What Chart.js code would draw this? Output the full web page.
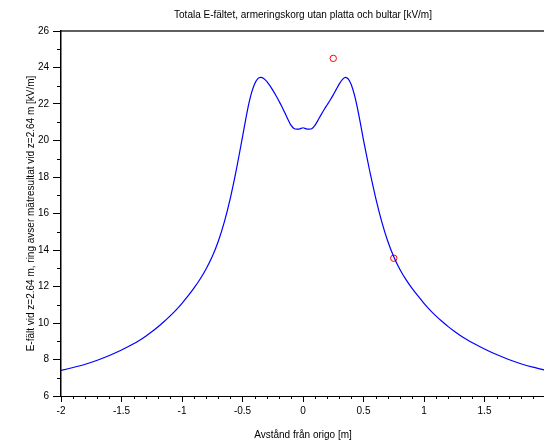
<!DOCTYPE html>
<html>
<head>
<meta charset="utf-8">
<script src="https://cdn.jsdelivr.net/npm/chart.js@4/dist/chart.umd.min.js"></script>
<style>
html, body { margin: 0; padding: 0; overflow: hidden; background: #fff; width: 544px; height: 443px; }
canvas { display: block; }
</style>
</head>
<body>
<canvas id="c" width="550" height="443"></canvas>
<script>
// Simulated field along the axis (kV/m)
const xValues = [-2.0, -1.9, -1.8, -1.7, -1.6, -1.5, -1.4, -1.35, -1.3, -1.25, -1.2, -1.15, -1.1, -1.05, -1.0, -0.95, -0.9, -0.85, -0.8, -0.75, -0.7, -0.65, -0.6, -0.55, -0.5,
                 -0.475, -0.45, -0.425, -0.4, -0.375, -0.35, -0.325, -0.3, -0.275, -0.25, -0.225, -0.2, -0.175, -0.15, -0.125, -0.1, -0.075, -0.05, -0.025, 0,
                 0.025, 0.05, 0.075, 0.1, 0.125, 0.15, 0.175, 0.2, 0.225, 0.25, 0.275, 0.3, 0.325, 0.35, 0.375, 0.4, 0.425, 0.45, 0.475, 0.5,
                 0.55, 0.6, 0.65, 0.7, 0.75, 0.8, 0.85, 0.9, 0.95, 1.0, 1.05, 1.1, 1.15, 1.2, 1.25, 1.3, 1.35, 1.4, 1.5, 1.6, 1.7, 1.8, 1.9, 2.0];
const yValues = [7.40, 7.56, 7.74, 7.96, 8.22, 8.52, 8.86, 9.06, 9.28, 9.52, 9.78, 10.07, 10.38, 10.71, 11.08, 11.48, 11.92, 12.41, 12.97, 13.64, 14.48, 15.54, 16.86, 18.43, 20.20,
                 21.10, 21.95, 22.62, 23.10, 23.38, 23.46, 23.40, 23.24, 23.02, 22.76, 22.48, 22.18, 21.86, 21.52, 21.16, 20.84, 20.66, 20.62, 20.64, 20.70,
                 20.64, 20.62, 20.66, 20.84, 21.12, 21.42, 21.70, 21.96, 22.22, 22.50, 22.80, 23.10, 23.34, 23.46, 23.36, 23.04, 22.50, 21.78, 20.92, 20.02,
                 18.37, 16.87, 15.57, 14.49, 13.63, 12.95, 12.39, 11.91, 11.48, 11.08, 10.71, 10.38, 10.08, 9.80, 9.55, 9.32, 9.11, 8.92, 8.58, 8.27, 8.00, 7.77, 7.58, 7.42];
// Measured values
const measX = [0.25, 0.75];
const measY = [24.5, 13.55];
// Axis ticks
const xMajorTicks = [-2, -1.5, -1, -0.5, 0, 0.5, 1, 1.5];
const xMinorTicks = [-1.9,-1.8,-1.7,-1.6,-1.4,-1.3,-1.2,-1.1,-0.9,-0.8,-0.7,-0.6,-0.4,-0.3,-0.2,-0.1,0.1,0.2,0.3,0.4,0.6,0.7,0.8,0.9,1.1,1.2,1.3,1.4,1.6,1.7,1.8,1.9];
const yMinorTicks = [7, 9, 11, 13, 15, 17, 19, 21, 23, 25];

const titleText = 'Totala E-fältet, armeringskorg utan platta och bultar [kV/m]';
const xTitle = 'Avstånd från origo [m]';
const yTitle = 'E-fält vid z=2.64 m, ring avser mätresultat vid z=2.64 m [kV/m]';

const FONT = { family: '"Liberation Sans", Arial, sans-serif', size: 10 };

const minorTicks = {
  id: 'minorTicks',
  afterDraw(chart) {
    const ctx = chart.ctx;
    const xs = chart.scales.x, ys = chart.scales.y;
    const area = chart.chartArea;
    ctx.save();
    ctx.strokeStyle = '#000';
    ctx.lineWidth = 1;
    ctx.beginPath();
    xMinorTicks.forEach(v => {
      const px = Math.round(xs.getPixelForValue(v)) + 0.5;
      ctx.moveTo(px, area.bottom);
      ctx.lineTo(px, area.bottom + 3);
    });
    yMinorTicks.forEach(v => {
      const py = Math.round(ys.getPixelForValue(v)) + 0.5;
      ctx.moveTo(area.left - 4, py);
      ctx.lineTo(area.left, py);
    });
    ctx.stroke();
    ctx.restore();
  }
};

new Chart(document.getElementById('c'), {
  type: 'scatter',
  data: {
    datasets: [
      {
        type: 'line',
        data: xValues.map((x, i) => ({ x: x, y: yValues[i] })),
        borderColor: '#0000ff',
        borderWidth: 1.2,
        pointRadius: 0,
        tension: 0.2,
        fill: false
      },
      {
        data: measX.map((x, i) => ({ x: x, y: measY[i] })),
        pointStyle: 'circle',
        pointRadius: 3.2,
        borderColor: '#ff0000',
        backgroundColor: 'rgba(0,0,0,0)',
        borderWidth: 1
      }
    ]
  },
  options: {
    responsive: false,
    devicePixelRatio: 1,
    animation: false,
    layout: { padding: 0 },
    plugins: { legend: { display: false }, tooltip: { enabled: false }, title: { display: false } },
    scales: {
      x: {
        type: 'linear',
        position: 'bottom',
        min: -2, max: 2,
        afterFit: s => { s.height = 47; },
        afterBuildTicks: s => { s.ticks = xMajorTicks.concat([2]).map(v => ({ value: v })); },
        ticks: {
          color: '#000', font: FONT, padding: 3,
          maxRotation: 0, autoSkip: false,
          callback: v => (v === 2 ? '' : String(v))
        },
        grid: { drawOnChartArea: false, tickLength: 6, tickColor: '#000', tickWidth: 1 },
        border: { color: '#000', width: 1 },
        title: { display: true, text: xTitle, color: '#000', font: FONT, padding: { top: 0, bottom: 1.5 } }
      },
      x2: {
        type: 'linear',
        position: 'top',
        min: -2, max: 2,
        afterFit: s => { s.height = 31; },
        ticks: { display: false },
        grid: { drawOnChartArea: false, drawTicks: false },
        border: { color: '#606060', width: 2 },
        title: { display: true, text: titleText, color: '#000', font: FONT, padding: { top: 9, bottom: 0 } }
      },
      y: {
        type: 'linear',
        position: 'left',
        min: 6, max: 26,
        afterFit: s => { s.width = 61; },
        ticks: { stepSize: 2, color: '#000', font: FONT, padding: 4 },
        grid: { drawOnChartArea: false, tickLength: 8, tickColor: '#000', tickWidth: 1 },
        border: { color: '#000', width: 1.5 },
        title: { display: true, text: yTitle, color: '#000', font: FONT, padding: { top: 25, bottom: 0 } }
      }
    }
  },
  plugins: [minorTicks]
});
</script>
</body>
</html>
